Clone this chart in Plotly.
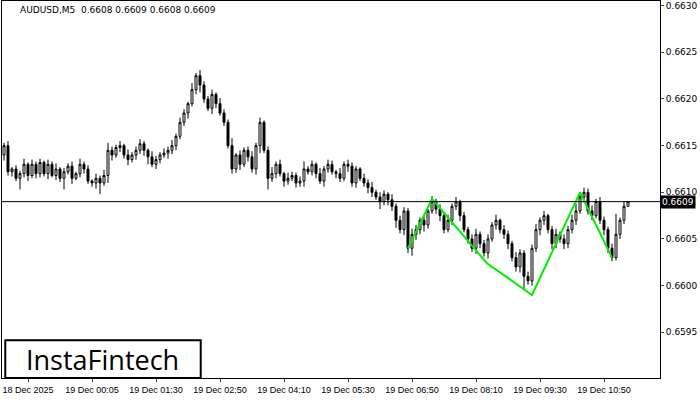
import plotly.graph_objects as go

# closes in points (1e-5)
closes = [
    66150, 66122, 66125, 66115, 66120,
    66130, 66118, 66130, 66120, 66132, 66120, 66130, 66118, 66125, 66115,
    66122, 66128, 66115, 66120, 66130,
    66125, 66112, 66110, 66115, 66110, 66118,
    66145, 66140, 66148, 66150, 66140, 66135, 66140, 66145, 66152, 66145, 66138, 66130, 66135, 66140, 66142,
    66145, 66150, 66160, 66175, 66185, 66195, 66210, 66225,
    66215, 66200, 66190, 66205, 66195, 66185, 66175,
    66150, 66125, 66140, 66130, 66145, 66138, 66125, 66150, 66175, 66145,
    66115, 66120, 66130, 66120, 66112, 66115, 66118, 66110, 66112, 66125,
    66122, 66130, 66120, 66112, 66125, 66130, 66122, 66120, 66115, 66130,
    66128, 66110, 66125, 66115, 66110,
    66105, 66100, 66095, 66090, 66098, 66092, 66085, 66070, 66060, 66080,
    66040, 66055, 66060, 66070, 66065, 66080, 66090, 66082,
    66075, 66060, 66070, 66085, 66090, 66075, 66060, 66050, 66040, 66055, 66045, 66035,
    66050, 66065, 66070, 66060, 66055, 66045, 66030, 66020, 66035, 66010, 66005,
    66040, 66060, 66070, 66075, 66060, 66045, 66055, 66050, 66045, 66060, 66070, 66080, 66095, 66100,
    66080, 66075, 66090, 66070, 66060, 66040, 66030, 66055, 66070, 66085, 66090,
]
first_open = 66140

upper_wick = [
    3, 5, 2, 4, 3, 6, 2, 5, 3, 4,
    2, 5, 3, 6, 2, 4, 3, 5, 2, 6,
    3, 4, 2, 5, 3, 6, 8, 4, 3, 5,
    2, 6, 3, 4, 5, 3, 2, 6, 4, 3,
    5, 4, 6, 3, 5, 4, 2, 7, 3, 6,
    4, 3, 5, 2, 6, 4, 3, 8, 2, 5,
    3, 4, 6, 3, 5, 2, 4, 7, 3, 5,
    2, 6, 4, 3, 5, 8, 3, 4, 2, 6,
    3, 5, 4, 2, 6, 3, 5, 4, 3, 2,
    5, 4, 6, 3, 5, 4, 2, 6, 3, 5,
    4, 3, 6, 5, 3, 4, 2, 6, 3, 5,
    4, 6, 3, 5, 2, 4, 3, 5, 6, 3,
    4, 5, 3, 6, 2, 5, 4, 3, 6, 4,
    3, 5, 4, 6, 3, 5, 2, 4, 6, 3,
    5, 4, 6, 8, 3, 5, 4, 6, 3, 5,
    4, 3, 5, 22, 3, 5, 0,
]
lower_wick = [
    6, 4, 5, 3, 12, 4, 6, 3, 5, 4,
    3, 6, 2, 5, 4, 12, 3, 6, 2, 4,
    5, 3, 4, 6, 12, 3, 8, 6, 3, 5,
    4, 6, 3, 5, 4, 6, 8, 3, 5, 4,
    3, 6, 4, 5, 3, 4, 6, 3, 5, 8,
    4, 3, 6, 5, 3, 4, 3, 5, 4, 6,
    3, 5, 4, 6, 8, 3, 12, 4, 5, 3,
    6, 4, 3, 5, 4, 6, 3, 4, 5, 3,
    6, 4, 3, 5, 4, 3, 6, 4, 5, 3,
    4, 6, 5, 3, 8, 4, 6, 5, 8, 4,
    6, 5, 8, 6, 5, 7, 4, 3, 5, 6,
    4, 3, 5, 4, 6, 3, 5, 4, 6, 5,
    4, 6, 3, 5, 4, 5, 6, 4, 5, 6,
    15, 4, 5, 4, 6, 5, 4, 6, 5, 4,
    6, 5, 4, 5, 3, 6, 4, 5, 3, 4,
    6, 5, 4, 3, 5, 4, 0,
]

# index 22 = 19 Dec 00:05, 16 bars (80 min) per label
tick_idx = [6, 22, 38, 54, 70, 86, 102, 118, 134, 150]
tick_text = ["18 Dec 2025", "19 Dec 00:05", "19 Dec 01:30", "19 Dec 02:50", "19 Dec 04:10",
             "19 Dec 05:30", "19 Dec 06:50", "19 Dec 08:10", "19 Dec 09:30", "19 Dec 10:50"]

# pattern zigzag (bar index, price)
zig_x = [101, 107, 120.75, 132, 144, 152]
zig_y = [0.66040, 0.66093, 0.66024, 0.65990, 0.66100, 0.66030]

level = 0.66090

opens = [first_open] + closes[:-1]
o = [v / 1e5 for v in opens]
c = [v / 1e5 for v in closes]
h = [(max(a, b) + u) / 1e5 for a, b, u in zip(opens, closes, upper_wick)]
l = [(min(a, b) - d) / 1e5 for a, b, d in zip(opens, closes, lower_wick)]
xs = list(range(len(closes)))

fig = go.Figure()
fig.add_trace(go.Candlestick(
    x=xs, open=o, high=h, low=l, close=c,
    increasing=dict(line=dict(color="black", width=1), fillcolor="white"),
    decreasing=dict(line=dict(color="black", width=1), fillcolor="black"),
    whiskerwidth=0, showlegend=False, hoverinfo="skip",
))
fig.add_trace(go.Scatter(x=zig_x, y=zig_y, mode="lines",
                         line=dict(color="#00ee00", width=2), showlegend=False))
fig.add_hline(y=level, line=dict(color="black", width=1))

fig.add_annotation(x=1, xref="paper", y=level, yref="y", text="0.6609", showarrow=False,
                   xanchor="left", bgcolor="black", font=dict(color="white", size=9, family="DejaVu Sans"),
                   borderpad=1)
fig.add_annotation(x=0.025, xref="paper", y=0.995, yref="paper", yanchor="top", xanchor="left",
                   text="AUDUSD,M5  0.6608 0.6609 0.6608 0.6609", showarrow=False,
                   font=dict(size=9, family="DejaVu Sans", color="black"))
fig.add_shape(type="rect", xref="paper", yref="paper", x0=0.005, x1=0.302, y0=0.0, y1=0.1,
              line=dict(color="black", width=2), fillcolor="white")
fig.add_annotation(x=0.153, xref="paper", y=0.05, yref="paper", text="InstaFintech", showarrow=False,
                   xanchor="center", yanchor="middle",
                   font=dict(size=27, family="Open Sans", color="black"))

fig.update_layout(
    width=700, height=400, margin=dict(l=2, r=40, t=1, b=22),
    paper_bgcolor="white", plot_bgcolor="white",
    font=dict(family="DejaVu Sans", size=9, color="black"),
    xaxis=dict(range=[-0.5, 164], rangeslider=dict(visible=False), tickvals=tick_idx, ticktext=tick_text,
               showgrid=False, showline=True, linecolor="black", mirror=True, ticks="outside",
               ticklen=3, zeroline=False, tickangle=0,
               tickfont=dict(size=9, family="Liberation Sans")),
    yaxis=dict(range=[0.65901, 0.66305], side="right", dtick=0.0005, tickformat=".4f",
               showgrid=False, showline=True, linecolor="black", mirror=True, ticks="outside",
               ticklen=3, zeroline=False, tickfont=dict(size=9)),
)
fig.write_html("out.html", config={"displayModeBar": False},
               post_script="document.body.style.margin='0';")
